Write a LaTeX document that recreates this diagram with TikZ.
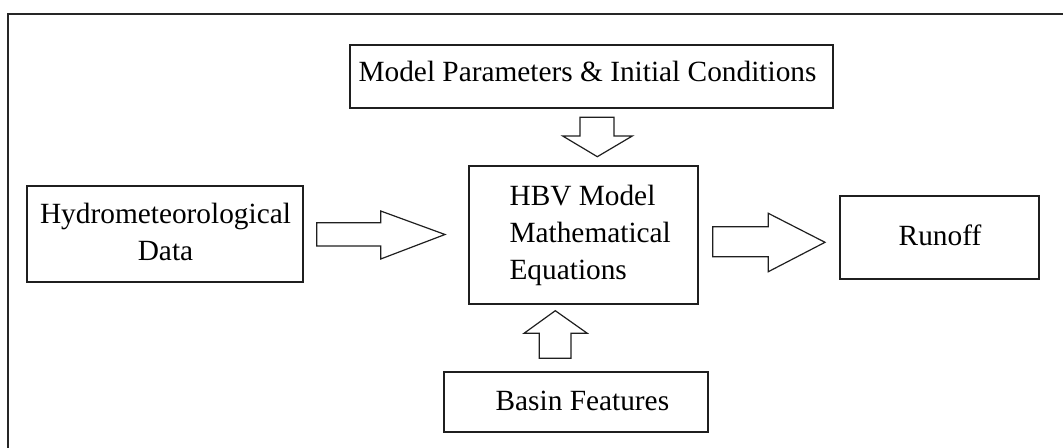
\documentclass[tikz,border=0pt]{standalone}
\usepackage{fontspec}
\setmainfont{Liberation Serif}
\begin{document}
\begin{tikzpicture}[x=0.75pt,y=-0.75pt,
  boxnode/.style={draw=black!88,line width=1.3pt,inner sep=0pt,rectangle},
  txt/.style={inner sep=0pt,font=\fontsize{22}{27.75}\selectfont,text=black},
  blockarrow/.style={draw=black!88,line width=0.9pt,fill=white,line join=miter},
  framestyle/.style={draw=black!85,line width=1.6pt}]
\useasboundingbox (0,0) rectangle (1063,447);
\begin{scope}
  \clip (0,0) rectangle (1063,447);
  \draw[framestyle] (8.3,14.2) rectangle (1080,470);
\end{scope}
% boxes
\node[boxnode,minimum width=482.7*0.75pt,minimum height=63.3*0.75pt] (mp) at (591.3,76.7) {};
\node[boxnode,minimum width=275.4*0.75pt,minimum height=95.7*0.75pt] (hy) at (165,233.9) {};
\node[boxnode,minimum width=229.5*0.75pt,minimum height=138*0.75pt] (hbv) at (583.6,234.7) {};
\node[boxnode,minimum width=199.3*0.75pt,minimum height=83.6*0.75pt] (ro) at (939.7,237.5) {};
\node[boxnode,minimum width=263.7*0.75pt,minimum height=60.6*0.75pt] (bf) at (575.9,402) {};
% texts
\node[txt,anchor=base] (mpT) at (587.5,81) {Model Parameters \& Initial Conditions};
\node[txt,anchor=base] (hyT) at (165.5,223.3) {\begin{tabular}[t]{@{}c@{}}Hydrometeorological\\Data\end{tabular}};
\node[txt,anchor=base west] (hbvT) at (509.3,205) {\begin{tabular}[t]{@{}l@{}}HBV Model\\Mathematical\\Equations\end{tabular}};
\node[txt,anchor=base] (roT) at (940,245.7) {Runoff};
\node[txt,anchor=base] (bfT) at (582.4,410) {Basin Features};
% block arrows
\draw[blockarrow] (316.7,222.7) -- (380.7,222.7) -- (380.7,211) -- (445,234.5) -- (380.7,259) -- (380.7,246) -- (316.7,246) -- cycle;
\draw[blockarrow] (712.7,226.7) -- (768.3,226.7) -- (768.3,213.3) -- (825,242.3) -- (768.3,271.7) -- (768.3,256.7) -- (712.7,256.7) -- cycle;
\draw[blockarrow] (580,117.3) -- (614,117.3) -- (614,136) -- (632.3,136) -- (597.3,156.7) -- (562.7,136) -- (580,136) -- cycle;
\draw[blockarrow] (539.3,358.3) -- (571,358.3) -- (571,333.3) -- (587.3,333.3) -- (555.3,310.7) -- (524,333.3) -- (539.3,333.3) -- cycle;
\end{tikzpicture}
\end{document}
